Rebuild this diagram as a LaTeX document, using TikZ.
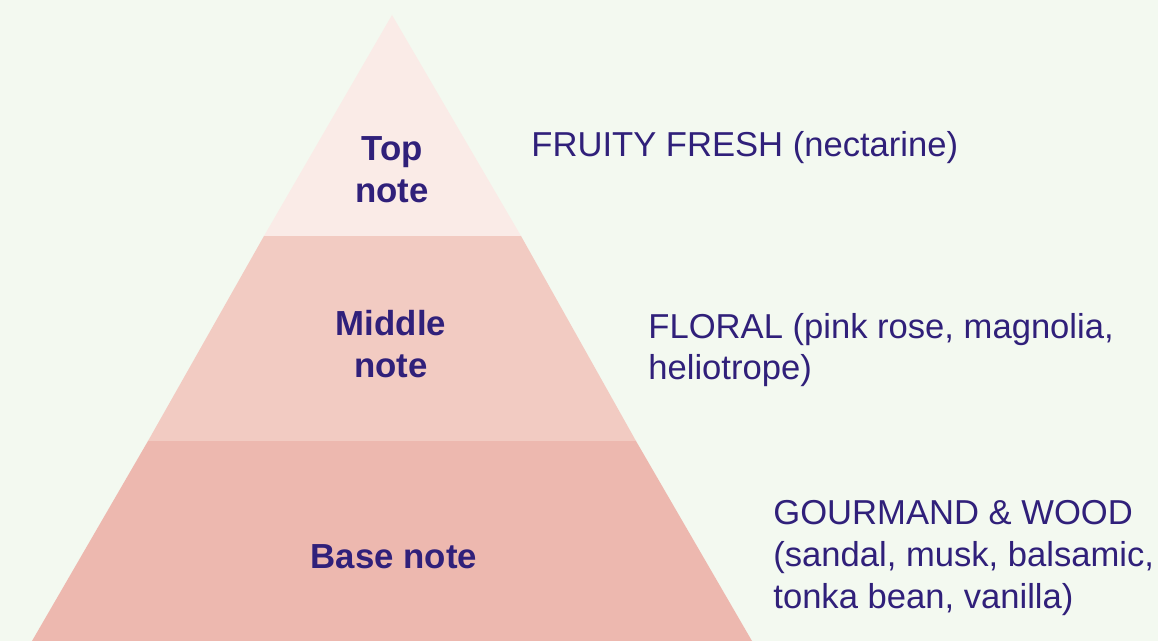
\documentclass[tikz,border=0pt]{standalone}
\usepackage{fontspec}
\setmainfont{Liberation Sans}
\definecolor{bgcol}{HTML}{F3F9F0}
\definecolor{topcol}{HTML}{FAEBE7}
\definecolor{midcol}{HTML}{F2CBC2}
\definecolor{basecol}{HTML}{EDB8AF}
\definecolor{inkcol}{HTML}{30207A}
\begin{document}
\begin{tikzpicture}
  [x=0.5pt,y=-0.5pt,
   every node/.style={text=inkcol,inner sep=0pt},
   layer/.style={font=\fontsize{17.4}{21}\selectfont\bfseries,align=center},
   descr/.style={font=\fontsize{17.3}{20.8}\selectfont,align=left,anchor=west}]
\fill[bgcol] (0,0) rectangle (1158,641);
\useasboundingbox (0,0) rectangle (1158,641);

% the three bands of the pyramid
\fill[basecol] (32,641) -- (148,441) -- (636,441) -- (752,641) -- cycle;
\fill[midcol] (148,441) -- (264,236) -- (521,236) -- (636,441) -- cycle;
\fill[topcol] (264,236) -- (392,15) -- (521,236) -- cycle;

\node (top)[layer] at (392,170) {Top\\note};
\node (mid)[layer] at (391,344) {Middle\\note};
\node (base)[layer] at (394,557) {Base note};

\node (fruity)[descr] at (531,148) {FRUITY FRESH (nectarine)};
\node (floral)[descr] at (648,350) {FLORAL (pink rose, magnolia,\\heliotrope)};
\node (gourmand)[descr] at (773,558) {GOURMAND \& WOOD\\(sandal, musk, balsamic,\\tonka bean, vanilla)};

\end{tikzpicture}
\end{document}
